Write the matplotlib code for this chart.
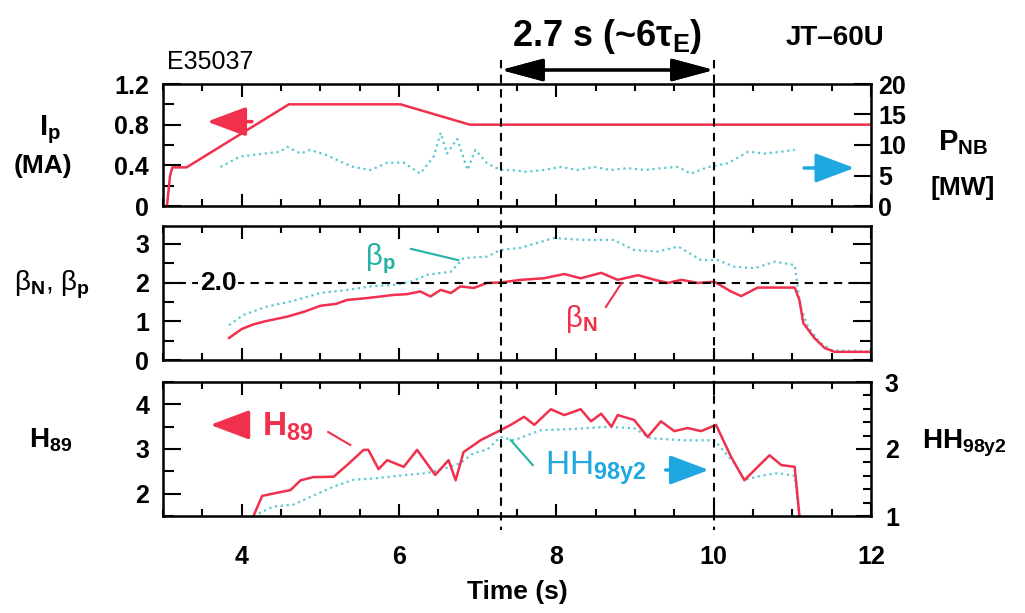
import matplotlib
matplotlib.use('Agg')
import matplotlib.pyplot as plt
from matplotlib.ticker import MultipleLocator, FixedLocator, FixedFormatter
from matplotlib.transforms import blended_transform_factory
from matplotlib.lines import Line2D

plt.rcParams['font.family'] = ['Liberation Sans', 'DejaVu Sans']
plt.rcParams['font.weight'] = 'bold'
plt.rcParams['mathtext.fontset'] = 'custom'
plt.rcParams['mathtext.rm'] = 'Liberation Sans'
plt.rcParams['mathtext.bf'] = 'Liberation Sans:bold'
plt.rcParams['mathtext.it'] = 'Liberation Sans:italic'

RED = '#f0304c'
CYAN = '#3dbfc9'
BLUE = '#1ea7e1'
TEAL = '#22b3a3'

# plasma current Ip (MA)
ip_t = [3.05, 3.09, 3.12, 3.30, 4.60, 6.02, 6.90, 12.0]
ip_v = [0.0, 0.30, 0.38, 0.38, 1.00, 1.00, 0.80, 0.80]

# NB power (MW), noisy dotted trace
pnb_t = [3.73, 3.98, 4.10, 4.49, 4.58, 4.75, 4.87, 5.09, 5.25, 5.42, 5.64, 5.85, 6.06, 6.27,
         6.44, 6.53, 6.61, 6.74, 6.87, 6.97, 7.12, 7.29, 7.42, 7.63, 7.84, 8.06, 8.27, 8.48,
         8.69, 8.91, 9.12, 9.33, 9.55, 9.71, 9.93, 10.18, 10.44, 10.65, 10.86, 11.03]
pnb_v = [6.4, 8.1, 8.3, 8.9, 9.7, 8.6, 9.2, 8.3, 7.3, 6.4, 5.9, 7.1, 7.1, 5.3,
         8.1, 12.0, 8.6, 11.0, 5.9, 9.2, 7.0, 5.9, 5.9, 5.6, 5.9, 6.4, 5.9, 6.4,
         5.9, 6.2, 5.9, 6.2, 6.4, 5.3, 6.4, 7.0, 8.9, 8.6, 8.9, 9.2]

# beta_N
bn_t = [3.84, 4.00, 4.15, 4.30, 4.58, 4.80, 5.00, 5.20, 5.34, 5.60, 5.93, 6.10, 6.27, 6.40,
        6.53, 6.66, 6.78, 6.95, 7.12, 7.29, 7.55, 7.84, 8.10, 8.31, 8.57, 8.78, 9.04, 9.25,
        9.42, 9.59, 9.80, 10.01, 10.22, 10.35, 10.56, 10.80, 11.03, 11.09, 11.14, 11.28,
        11.41, 11.54, 12.0]
bn_v = [0.57, 0.80, 0.92, 1.00, 1.12, 1.25, 1.40, 1.45, 1.55, 1.60, 1.68, 1.70, 1.77, 1.64,
        1.81, 1.73, 1.90, 1.86, 1.99, 2.00, 2.07, 2.11, 2.22, 2.11, 2.25, 2.07, 2.19, 2.07,
        1.99, 2.07, 1.99, 2.02, 1.77, 1.65, 1.87, 1.87, 1.87, 1.55, 0.95, 0.57,
        0.31, 0.21, 0.21]

# beta_p
bp_t = [3.84, 4.02, 4.32, 4.60, 4.78, 5.00, 5.34, 5.64, 5.93, 6.15, 6.36, 6.66, 6.82, 7.12,
        7.29, 7.55, 7.97, 8.35, 8.73, 8.99, 9.29, 9.55, 9.84, 10.05, 10.26, 10.52, 10.78,
        11.03, 11.10, 11.20, 11.35, 11.50, 12.0]
bp_v = [0.90, 1.16, 1.38, 1.50, 1.60, 1.73, 1.81, 1.90, 1.94, 2.02, 2.20, 2.28, 2.63, 2.67,
        2.84, 2.90, 3.15, 3.10, 3.10, 2.84, 2.80, 2.93, 2.58, 2.58, 2.41, 2.37, 2.54,
        2.45, 1.40, 0.85, 0.45, 0.25, 0.22]

# H89 (left axis)
h89_t = [4.15, 4.26, 4.45, 4.62, 4.75, 4.91, 5.17, 5.34, 5.55, 5.61, 5.74, 5.85, 6.06, 6.23,
         6.46, 6.63, 6.72, 6.82, 7.04, 7.29, 7.42, 7.59, 7.72, 7.93, 8.10, 8.31, 8.44, 8.57,
         8.70, 8.78, 8.99, 9.16, 9.33, 9.50, 9.67, 9.84, 10.03, 10.22, 10.39, 10.56, 10.71,
         10.86, 11.03, 11.09]
h89_v = [1.50, 1.95, 2.02, 2.08, 2.30, 2.37, 2.38, 2.64, 2.98, 2.98, 2.55, 2.75, 2.60, 2.98,
         2.42, 2.75, 2.30, 2.93, 3.20, 3.42, 3.54, 3.72, 3.54, 3.89, 3.76, 3.89, 3.62, 3.79,
         3.50, 3.76, 3.65, 3.27, 3.62, 3.40, 3.47, 3.40, 3.54, 2.83, 2.30, 2.60, 2.86,
         2.64, 2.60, 1.50]

# HH98y2 (right axis)
hh_t = [4.15, 4.40, 4.66, 4.92, 5.17, 5.42, 5.68, 6.06, 6.36, 6.61, 6.78, 6.95, 7.12, 7.29,
        7.46, 7.80, 8.22, 8.65, 8.99, 9.20, 9.62, 10.01, 10.26, 10.39, 10.60, 10.82, 11.03, 11.09]
hh_v = [1.00, 1.14, 1.17, 1.31, 1.44, 1.54, 1.56, 1.61, 1.64, 1.72, 1.79, 1.94, 1.99, 2.18,
        2.13, 2.28, 2.30, 2.33, 2.31, 2.16, 2.13, 2.13, 1.79, 1.54, 1.60, 1.64, 1.60, 1.00]

t_start, t_end = 7.3, 10.0

fig = plt.figure(figsize=(10.25, 6.13), dpi=100)
W, H = 1025.0, 613.0


def px(x, y):
    return x / W, 1 - y / H


ax1 = fig.add_axes([163 / W, 1 - 206 / H, 708 / W, 122 / H])
ax2 = fig.add_axes([163 / W, 1 - 360 / H, 708 / W, 134 / H])
ax3 = fig.add_axes([163 / W, 1 - 516 / H, 708 / W, 134 / H])


def style(ax):
    ax.set_xlim(3, 12)
    for s in ax.spines.values():
        s.set_linewidth(1.8)
    ax.xaxis.set_major_locator(MultipleLocator(2))
    ax.xaxis.set_minor_locator(MultipleLocator(0.5))
    ax.tick_params(axis='x', which='both', direction='in', top=True, width=1.5)
    ax.tick_params(axis='x', which='major', length=9, pad=21, labelsize=18)
    ax.tick_params(axis='x', which='minor', length=5)
    ax.tick_params(axis='y', which='both', direction='in', width=1.5, labelsize=18, pad=10)
    ax.tick_params(axis='y', which='major', length=13)
    ax.tick_params(axis='y', which='minor', length=8)


for a in (ax1, ax2, ax3):
    style(a)
ax1.tick_params(axis='x', labelbottom=False)
ax2.tick_params(axis='x', labelbottom=False)

arrow_style = '-|>,head_length=1.2,head_width=0.45'

# ---- panel 1: Ip and PNB
ax1r = ax1.twinx()
ax1r.plot(pnb_t, pnb_v, ':', color=CYAN, lw=1.6, alpha=0.85)
ax1r.set_ylim(0, 20)
ax1r.yaxis.set_major_locator(MultipleLocator(5))
ax1r.tick_params(axis='y', direction='in', length=12, width=1.5, labelsize=18, pad=5)
ax1.set_zorder(ax1r.get_zorder() + 1)
ax1.patch.set_visible(False)
ax1.plot(ip_t, ip_v, color=RED, lw=1.8)
ax1.set_ylim(0, 1.2)
ax1.yaxis.set_major_locator(FixedLocator([0, 0.4, 0.8, 1.2]))
ax1.yaxis.set_major_formatter(FixedFormatter(['0', '0.4', '0.8', '1.2']))
ax1.yaxis.set_minor_locator(MultipleLocator(0.2))
ax1.annotate('', xy=(3.56, 0.83), xytext=(4.13, 0.83),
             arrowprops=dict(arrowstyle=arrow_style, color=RED, lw=2.5,
                             mutation_scale=20, shrinkA=0, shrinkB=0))
ax1.annotate('', xy=(11.79, 0.374), xytext=(11.15, 0.374),
             arrowprops=dict(arrowstyle=arrow_style, color=BLUE, lw=2.5,
                             mutation_scale=20, shrinkA=0, shrinkB=0))

# ---- panel 2: beta_N, beta_p
ax2.plot(bp_t, bp_v, ':', color=CYAN, lw=1.6, alpha=0.85)
ax2.plot(bn_t, bn_v, color=RED, lw=1.8)
ax2.set_ylim(0, 3.46)
ax2.yaxis.set_major_locator(MultipleLocator(1))
ax2.yaxis.set_minor_locator(MultipleLocator(0.5))
ax2.tick_params(axis='y', which='both', right=True)
ax2.axhline(2.0, color='black', lw=1.5, dashes=(4, 3))
ax2.text(3.70, 2.0, '2.0', fontsize=19, ha='center', va='center',
         bbox=dict(facecolor='white', edgecolor='none', pad=1))
ax2.text(5.76, 2.62, r'β$_\mathbf{p}$', color=TEAL, fontsize=21, ha='center', va='center',
         fontweight='normal')
ax2.plot([6.15, 6.75], [2.87, 2.58], color=TEAL, lw=1.5)
ax2.text(8.31, 1.05, r'β$_\mathbf{N}$', color=RED, fontsize=21, ha='center', va='center',
         fontweight='normal')
ax2.plot([8.63, 8.83], [1.37, 1.99], color=RED, lw=1.5)

# ---- panel 3: H89, HH98y2
ax3r = ax3.twinx()
ax3r.plot(hh_t, hh_v, ':', color=CYAN, lw=1.6, alpha=0.85)
ax3r.set_ylim(1, 3)
ax3r.yaxis.set_major_locator(MultipleLocator(1))
ax3r.yaxis.set_minor_locator(MultipleLocator(0.2))
ax3r.tick_params(axis='y', which='both', direction='in', width=1.5, labelsize=18, pad=10)
ax3r.tick_params(axis='y', which='major', length=11)
ax3r.tick_params(axis='y', which='minor', length=6)
ax3.set_zorder(ax3r.get_zorder() + 1)
ax3.patch.set_visible(False)
ax3.plot(h89_t, h89_v, color=RED, lw=1.8)
ax3.set_ylim(1.5, 4.5)
ax3.yaxis.set_major_locator(MultipleLocator(1))
ax3.yaxis.set_minor_locator(MultipleLocator(0.5))
ax3.set_xticks([4, 6, 8, 10, 12])
ax3.set_xlabel('Time (s)', fontsize=19, fontweight='bold', labelpad=8)
ax3.annotate('', xy=(3.60, 3.54), xytext=(4.08, 3.54),
             arrowprops=dict(arrowstyle=arrow_style, color=RED, lw=2.5,
                             mutation_scale=20, shrinkA=0, shrinkB=0))
ax3.text(4.58, 3.50, r'H$_\mathbf{89}$', color=RED, fontsize=24, ha='center', va='center')
ax3.plot([5.10, 5.38], [3.38, 3.09], color=RED, lw=1.5)
ax3.annotate('', xy=(9.94, 2.53), xytext=(9.39, 2.53),
             arrowprops=dict(arrowstyle=arrow_style, color=BLUE, lw=2.5,
                             mutation_scale=20, shrinkA=0, shrinkB=0))
ax3.text(8.5, 2.58, r'HH$_\mathbf{98y2}$', color=BLUE, fontsize=24, ha='center', va='center',
         fontweight='normal')
ax3.plot([7.70, 7.42], [2.64, 3.20], color=TEAL, lw=1.5)

# ---- vertical dashed markers and duration arrow
tr = blended_transform_factory(ax1.transData, fig.transFigure)
for tv in (t_start, t_end):
    fig.add_artist(Line2D([tv, tv], [1 - 60 / H, 1 - 530 / H], transform=tr,
                          color='black', lw=1.5, dashes=(4, 3)))
fig.add_artist(ax1.annotate('', xy=(t_end, 1 - 70 / H), xytext=(t_start, 1 - 70 / H),
                            xycoords=tr, textcoords=tr, annotation_clip=False,
                            arrowprops=dict(arrowstyle='<|-|>,head_length=1.3,head_width=0.35',
                                            color='black', lw=2.2, mutation_scale=20,
                                            shrinkA=0, shrinkB=0)))

# ---- figure texts
fig.text(*px(607, 36), r'2.7 s (~6τ$_\mathbf{E}$)', fontsize=26, ha='center', va='center')
fig.text(*px(835, 38), 'JT–60U', fontsize=20, ha='center', va='center')
fig.text(*px(167, 62), 'E35037', fontsize=18, ha='left', va='center', fontweight='normal')
fig.text(*px(50, 130), r'I$_\mathbf{p}$', fontsize=21, ha='center', va='center')
fig.text(*px(43, 166), '(MA)', fontsize=19, ha='center', va='center')
fig.text(*px(52, 285), r'β$_\mathrm{N}$, β$_\mathrm{p}$', fontsize=20, ha='center',
         va='center', fontweight='normal')
fig.text(*px(51, 440), r'H$_\mathbf{89}$', fontsize=20, ha='center', va='center')
fig.text(*px(963, 143), r'P$_\mathbf{NB}$', fontsize=21, ha='center', va='center')
fig.text(*px(963, 188), '[MW]', fontsize=19, ha='center', va='center')
fig.text(*px(964, 443), r'HH$_\mathbf{98y2}$', fontsize=20, ha='center', va='center')

fig.savefig('out.png', dpi=100)
